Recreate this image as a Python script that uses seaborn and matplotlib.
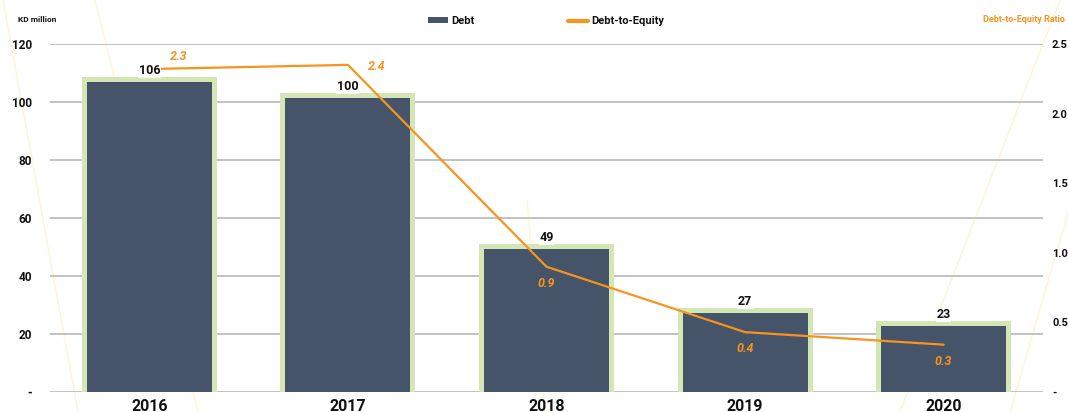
import matplotlib
matplotlib.use("Agg")
import matplotlib.pyplot as plt
from matplotlib.lines import Line2D
from matplotlib.patches import Patch
import seaborn as sns
import numpy as np

# ---- data ----
years = ["2016", "2017", "2018", "2019", "2020"]
debt = [106.9, 101.5, 49.3, 27.3, 22.8]
debt_labels = ["106", "100", "49", "27", "23"]
ratio = [2.32, 2.35, 0.90, 0.43, 0.34]
ratio_labels = ["2.3", "2.4", "0.9", "0.4", "0.3"]
left_ticks = [0, 20, 40, 60, 80, 100, 120]
left_ticklabels = ["-", "20", "40", "60", "80", "100", "120"]
right_ticks = [0, 0.5, 1.0, 1.5, 2.0, 2.5]
right_ticklabels = ["-", "0.5", "1.0", "1.5", "2.0", "2.5"]

# ---- style ----
DARK = "#455468"
GREEN = "#D3E6B4"
ORANGE = "#F7941D"
GRID = "#BDBDBD"
DECO = "#FFF5D6"
TXT = "#111111"

sns.set_theme(style="white")
plt.rcParams["font.family"] = ["Roboto", "DejaVu Sans"]

W, H = 1068, 412
fig = plt.figure(figsize=(W / 100, H / 100), dpi=100)
fig.patch.set_facecolor("white")
ax = fig.add_axes([50 / W, 20 / H, (1043 - 50) / W, (392 - 44) / H])
ax.set_facecolor("none")

# decorative background lines (pixel coords, y from top)
deco = [((3, 0), (78, 412)), ((95, 0), (198, 412)), ((527, 200), (545, 412)),
        ((1060, 0), (900, 412)), ((1130, 0), (1010, 412))]
for (x0, y0), (x1, y1) in deco:
    fig.add_artist(Line2D([x0 / W, x1 / W], [1 - y0 / H, 1 - y1 / H],
                          transform=fig.transFigure, color=DECO, lw=1.2, zorder=-5))

# bars: green frame behind, dark fill on top
sns.barplot(x=years, y=debt, color=GREEN, saturation=1, width=0.629,
            edgecolor=GREEN, linewidth=7.2, ax=ax, zorder=2)
sns.barplot(x=years, y=debt, color=DARK, saturation=1, width=0.629,
            linewidth=0, ax=ax, zorder=3)
for p in ax.patches:
    p.set_joinstyle("miter")

ax.set_xlim(-0.5, 4.5)
ax.set_ylim(0, 120)
ax.set_yticks(left_ticks)
ax.set_yticklabels(left_ticklabels)
ax.yaxis.grid(True, color=GRID, lw=1.3)
ax.set_axisbelow(True)
for s in ax.spines.values():
    s.set_visible(False)
ax.tick_params(axis="y", length=0, pad=13, labelsize=8.5, labelcolor=TXT)
ax.tick_params(axis="x", length=0, pad=5, labelsize=11.5, labelcolor=TXT)
for t in ax.get_yticklabels():
    t.set_fontweight("bold")
for t in ax.get_xticklabels():
    t.set_fontweight("bold")
ax.set_xlabel("")
ax.set_ylabel("")

# line on secondary axis
ax2 = ax.twinx()
sns.lineplot(x=years, y=ratio, color=ORANGE, lw=1.6, sort=False, ax=ax2, zorder=5)
ax2.set_ylim(0, 2.5)
ax2.set_yticks(right_ticks)
ax2.set_yticklabels(right_ticklabels)
for s in ax2.spines.values():
    s.set_visible(False)
ax2.tick_params(axis="y", length=0, pad=6.5, labelsize=8, labelcolor=TXT)
for t in ax2.get_yticklabels():
    t.set_fontweight("bold")
ax2.set_ylabel("")
ax2.grid(False)

# debt value labels (drawn above the line, with white backing)
for i, (v, lab) in enumerate(zip(debt, debt_labels)):
    ax2.annotate(lab, (i, v), xycoords=ax.transData, xytext=(0, 8),
                 textcoords="offset points", ha="center", va="center",
                 fontsize=9, fontweight="bold", color=TXT, zorder=7,
                 bbox=dict(boxstyle="square,pad=0.05", fc="white", ec="none"))

label_offsets = [(21, 9), (21, -1.5), (0, -12), (0, -12), (0, -12)]
for i, (v, lab) in enumerate(zip(ratio, ratio_labels)):
    dx, dy = label_offsets[i]
    ax2.annotate(lab, (i, v), xytext=(dx, dy), textcoords="offset points",
                 ha="center", va="center", fontsize=9, fontweight="bold",
                 fontstyle="italic", color=ORANGE, zorder=6)

# titles
fig.text(18 / W, 1 - 20 / H, "KD million", fontsize=6, fontweight="bold",
         color=TXT, ha="left", va="center")
fig.text(983 / W, 1 - 20 / H, "Debt-to-Equity Ratio", fontsize=6.5, fontweight="bold",
         color=ORANGE, ha="left", va="center")

# legend
handles = [Patch(facecolor=DARK, edgecolor="none", label="Debt"),
           Line2D([0], [0], color=ORANGE, lw=3, label="Debt-to-Equity")]
leg = fig.legend(handles=handles, loc="center", bbox_to_anchor=(546 / W, 1 - 21 / H),
                 ncol=2, frameon=False, fontsize=8, handlelength=1.8,
                 handleheight=0.45, handletextpad=0.3, columnspacing=8.4)
for t in leg.get_texts():
    t.set_fontweight("bold")
    t.set_color(TXT)

fig.savefig("out.png", dpi=100, facecolor="white")
